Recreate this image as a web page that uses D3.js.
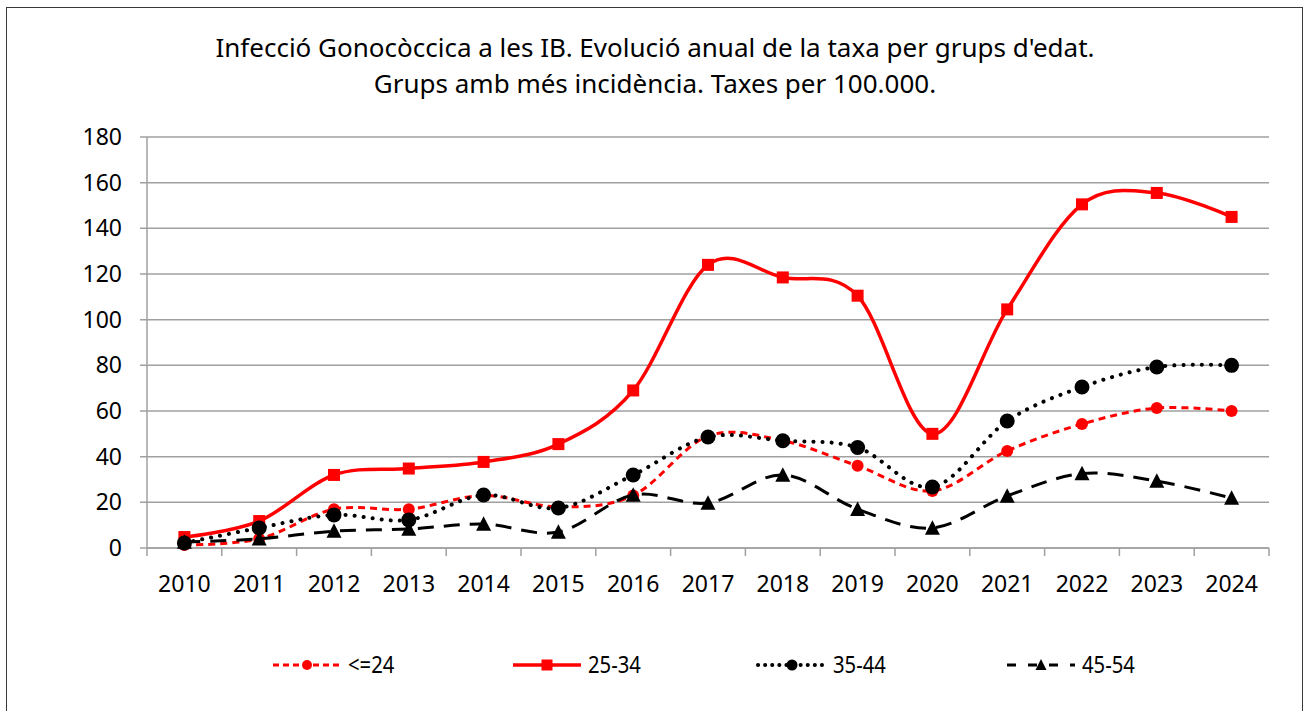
<!DOCTYPE html>
<html>
<head>
<meta charset="utf-8">
<script src="https://cdn.jsdelivr.net/npm/d3@7"></script>
<style>
  body { margin: 0; background: #fff; }
  text { font-family: "Noto Sans", "Open Sans", sans-serif; fill: #000; }
</style>
</head>
<body>
<div class="chart"></div>
<script>
var svgWidth = 1309;
var svgHeight = 711;

var margin = { top: 137, right: 40, bottom: 163, left: 147 };
var width = 1269 - margin.left;
var height = 548 - margin.top;

// data
var years = ["2010", "2011", "2012", "2013", "2014", "2015", "2016", "2017",
             "2018", "2019", "2020", "2021", "2022", "2023", "2024"];
var seriesNames = ["<=24", "25-34", "35-44", "45-54"];
var upTo24 = [1.3, 4, 17, 17, 23, 18, 23, 49, 47, 36, 25, 42.5, 54.3, 61.3, 60];
var age25to34 = [4.8, 11.8, 32, 34.8, 37.7, 45.5, 69, 124, 118.5, 110.5, 50, 104.5, 150.5, 155.5, 145];
var age35to44 = [2.2, 8.8, 14.5, 12.3, 23.2, 17.5, 32, 48.6, 47, 44, 26.7, 55.6, 70.5, 79.3, 80];
var age45to54 = [2.6, 4, 7.4, 8.3, 10.5, 7, 23.2, 19.7, 32, 17, 8.8, 22.8, 32.6, 29.3, 21.9];
var yTicks = [0, 20, 40, 60, 80, 100, 120, 140, 160, 180];

var styles = [
    { values: upTo24, color: "red", width: 3, dash: "7,5", cap: "butt", marker: "circle", size: 6 },
    { values: age25to34, color: "red", width: 3.5, dash: null, cap: "butt", marker: "square", size: 12 },
    { values: age35to44, color: "black", width: 4, dash: "0.1,9", cap: "round", marker: "circle", size: 7.5 },
    { values: age45to54, color: "black", width: 3, dash: "16,10", cap: "butt", marker: "triangle", size: 15 }
];

var svg = d3.select(".chart")
    .append("svg")
    .attr("width", svgWidth)
    .attr("height", svgHeight);

// outer frame
svg.append("rect")
    .attr("x", 6.5).attr("y", 7.5)
    .attr("width", 1296).attr("height", 710)
    .attr("fill", "none")
    .attr("stroke", "#3a3a3a")
    .attr("stroke-width", 1);

// title
svg.append("text")
    .attr("x", 655).attr("y", 57)
    .attr("text-anchor", "middle")
    .attr("font-size", "26px")
    .text("Infecció Gonocòccica a les IB. Evolució anual de la taxa per grups d'edat.");
svg.append("text")
    .attr("x", 655).attr("y", 93)
    .attr("text-anchor", "middle")
    .attr("font-size", "26px")
    .text("Grups amb més incidència. Taxes per 100.000.");

var chartGroup = svg.append("g")
    .attr("transform", `translate(${margin.left}, ${margin.top})`);

var xScale = d3.scaleBand().domain(years).range([0, width]);
var yScale = d3.scaleLinear().domain([0, 180]).range([height, 0]);
var xPos = d => xScale(d) + xScale.bandwidth() / 2;

// gridlines
chartGroup.append("g")
    .selectAll("line")
    .data(yTicks)
    .enter()
    .append("line")
    .attr("x1", -7).attr("x2", width)
    .attr("y1", d => yScale(d)).attr("y2", d => yScale(d))
    .attr("stroke", "#a0a0a0")
    .attr("stroke-width", 1.5);

// y axis
var leftAxis = d3.axisLeft(yScale).tickValues(yTicks).tickSize(0).tickPadding(25);
var yAxis = chartGroup.append("g").call(leftAxis);
yAxis.select(".domain").remove();
yAxis.selectAll("text")
    .attr("font-size", "23px")
    .attr("font-family", "Noto Sans, Open Sans, sans-serif");
chartGroup.append("line")
    .attr("x1", 0).attr("x2", 0).attr("y1", 0).attr("y2", height)
    .attr("stroke", "#a0a0a0").attr("stroke-width", 1.5);

// x axis
var bottomAxis = d3.axisBottom(xScale).tickSize(0).tickPadding(28);
var xAxis = chartGroup.append("g")
    .attr("transform", `translate(0, ${height})`)
    .call(bottomAxis);
xAxis.select(".domain").remove();
xAxis.selectAll("text")
    .attr("font-size", "23px")
    .attr("font-family", "Noto Sans, Open Sans, sans-serif");
chartGroup.append("line")
    .attr("x1", 0).attr("x2", width).attr("y1", height).attr("y2", height)
    .attr("stroke", "#a0a0a0").attr("stroke-width", 1.5);
chartGroup.append("g")
    .selectAll("line")
    .data(years.concat(["end"]))
    .enter()
    .append("line")
    .attr("x1", (d, i) => i * xScale.bandwidth())
    .attr("x2", (d, i) => i * xScale.bandwidth())
    .attr("y1", height).attr("y2", height + 8)
    .attr("stroke", "#a0a0a0").attr("stroke-width", 1.5);

var line = d3.line()
    .x((d, i) => xPos(years[i]))
    .y(d => yScale(d))
    .curve(d3.curveCardinal.tension(0));

function drawMarker(g, type, size, color) {
    if (type === "circle") {
        g.append("circle").attr("r", size).attr("fill", color);
    } else if (type === "square") {
        g.append("rect")
            .attr("x", -size / 2).attr("y", -size / 2)
            .attr("width", size).attr("height", size)
            .attr("fill", color);
    } else {
        var h = size * 0.9;
        g.append("path")
            .attr("d", `M0,${-h / 2 - 1}L${size / 2},${h / 2}L${-size / 2},${h / 2}Z`)
            .attr("fill", color);
    }
}

// series lines and markers
styles.forEach(function (s) {
    chartGroup.append("path")
        .datum(s.values)
        .attr("d", line)
        .attr("fill", "none")
        .attr("stroke", s.color)
        .attr("stroke-width", s.width)
        .attr("stroke-dasharray", s.dash)
        .attr("stroke-linecap", s.cap);

    s.values.forEach(function (v, i) {
        var g = chartGroup.append("g")
            .attr("transform", `translate(${xPos(years[i])}, ${yScale(v)})`);
        drawMarker(g, s.marker, s.size, s.color);
    });
});

// legend
var legendX = [273, 513, 758, 1007];
var legendTextX = [348, 588, 833, 1082];
var legendDash = ["6,4", null, "0.1,7", "9,12"];
var legendSize = [5, 11, 5.5, 11];
var legendY = 665;
seriesNames.forEach(function (name, i) {
    var s = styles[i];
    var g = svg.append("g");
    g.append("line")
        .attr("x1", legendX[i]).attr("x2", legendX[i] + 68)
        .attr("y1", legendY).attr("y2", legendY)
        .attr("stroke", s.color)
        .attr("stroke-width", s.width)
        .attr("stroke-dasharray", legendDash[i])
        .attr("stroke-linecap", s.cap);
    var m = g.append("g").attr("transform", `translate(${legendX[i] + 34}, ${legendY})`);
    drawMarker(m, s.marker, legendSize[i], s.color);
    g.append("text")
        .attr("transform", `translate(${legendTextX[i]}, ${legendY + 8}) scale(0.88, 1)`)
        .attr("font-size", "23px")
        .text(name);
});
</script>
</body>
</html>
